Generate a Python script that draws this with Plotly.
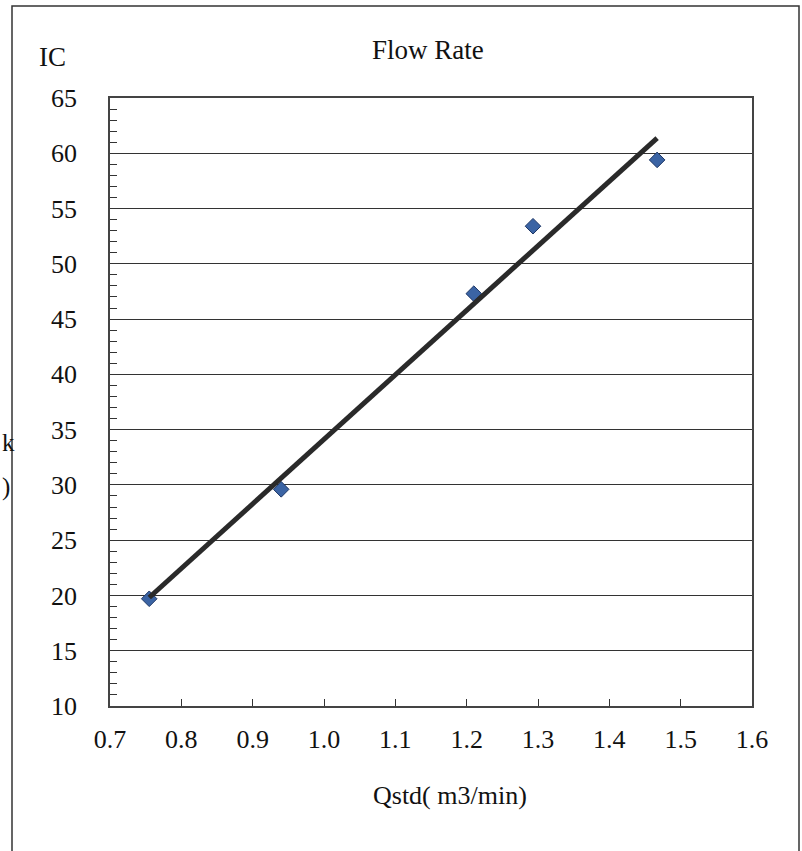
import numpy as np
import plotly.graph_objects as go

# ---- data ----
qstd = [0.755, 0.940, 1.210, 1.293, 1.467]      # Qstd (m3/min)
ic = [19.7, 29.6, 47.3, 53.4, 59.4]             # IC
x_ticks = [0.7, 0.8, 0.9, 1.0, 1.1, 1.2, 1.3, 1.4, 1.5, 1.6]
x_tick_labels = ["0.7", "0.8", "0.9", "1.0", "1.1", "1.2", "1.3", "1.4", "1.5", "1.6"]
y_ticks = [10, 15, 20, 25, 30, 35, 40, 45, 50, 55, 60, 65]
y_tick_labels = [str(v) for v in y_ticks]

# linear trend line fitted to the data
slope, intercept = np.polyfit(qstd, ic, 1)
fit_x = [min(qstd), max(qstd)]
fit_y = [slope * v + intercept for v in fit_x]

W, H = 802, 851
L, R, T, B = 110, 50, 98, 145
PW, PH = W - L - R, H - T - B


def px(x):
    return (x - L) / PW


def py(y):
    return (H - B - y) / PH


FONT = "Liberation Serif, Times New Roman, serif"

fig = go.Figure()
fig.add_trace(go.Scatter(
    x=qstd, y=ic, mode="markers",
    marker=dict(symbol="diamond", size=12, color="#3B64A4",
                line=dict(color="#1E3766", width=1)),
    showlegend=False, hoverinfo="x+y"))
fig.add_trace(go.Scatter(
    x=fit_x, y=fit_y, mode="lines",
    line=dict(color="#2a2a2a", width=5),
    showlegend=False, hoverinfo="skip"))

fig.update_layout(
    width=W, height=H,
    margin=dict(l=L, r=R, t=T, b=B),
    paper_bgcolor="white", plot_bgcolor="white",
    font=dict(family=FONT, color="#111", size=26),
    xaxis=dict(range=[0.7, 1.6], tickvals=x_ticks, ticktext=x_tick_labels,
               ticks="inside", ticklen=7, tickwidth=1.2, tickcolor="#333",
               showline=True, linecolor="#444", linewidth=1.5, mirror=True,
               showgrid=False, zeroline=False, ticklabelstandoff=9,
               tickfont=dict(size=26, family=FONT, color="#111")),
    yaxis=dict(range=[10, 65], tickvals=y_ticks, ticktext=y_tick_labels,
               ticks="inside", ticklen=7, tickwidth=1.2, tickcolor="#333",
               minor=dict(dtick=1, ticks="inside", ticklen=7, tickwidth=1.2,
                          tickcolor="#333", showgrid=False),
               showline=True, linecolor="#444", linewidth=1.5, mirror=True,
               showgrid=True, gridcolor="#333", gridwidth=1.3,
               zeroline=False, ticklabelstandoff=26,
               tickfont=dict(size=26, family=FONT, color="#111")),
    shapes=[dict(type="rect", xref="paper", yref="paper",
                 x0=px(12), x1=px(799), y0=py(880), y1=py(6),
                 line=dict(color="#333", width=1.5), layer="below")],
    annotations=[
        dict(text="Flow Rate", xref="paper", yref="paper", x=px(428), y=py(50),
             showarrow=False, font=dict(size=27, family=FONT, color="#111"),
             xanchor="center", yanchor="middle"),
        dict(text="IC", xref="paper", yref="paper", x=px(52), y=py(57),
             showarrow=False, font=dict(size=27, family=FONT, color="#111"),
             xanchor="center", yanchor="middle"),
        dict(text="Qstd( m3/min)", xref="paper", yref="paper", x=px(450), y=py(795),
             showarrow=False, font=dict(size=26, family=FONT, color="#111"),
             xanchor="center", yanchor="middle"),
        dict(text="k", xref="paper", yref="paper", x=px(0), y=py(443),
             showarrow=False, font=dict(size=25, family=FONT, color="#111"),
             xanchor="left", yanchor="middle"),
        dict(text=")", xref="paper", yref="paper", x=px(0), y=py(487),
             showarrow=False, font=dict(size=25, family=FONT, color="#111"),
             xanchor="left", yanchor="middle"),
    ],
)

fig.write_html("out.html",
               config={"displayModeBar": False},
               post_script="document.body.style.margin='0';"
                           "document.body.style.overflow='hidden';")
